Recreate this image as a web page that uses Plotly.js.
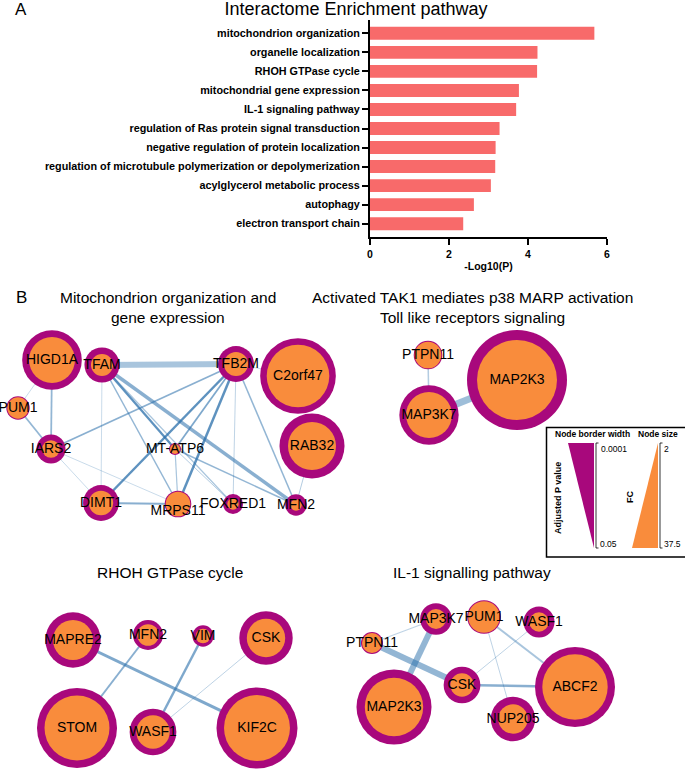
<!DOCTYPE html>
<html><head><meta charset="utf-8">
<script src="https://cdn.plot.ly/plotly-3.0.1.min.js"></script>
<style>html,body{margin:0;padding:0;background:#fff;}#chart{width:685px;height:771px;}</style>
</head><body><div id="chart"></div>
<script>
// ---------- Panel A data ----------
const pathways = [
  "mitochondrion organization",
  "organelle localization",
  "RHOH GTPase cycle",
  "mitochondrial gene expression",
  "IL-1 signaling pathway",
  "regulation of Ras protein signal transduction",
  "negative regulation of protein localization",
  "regulation of microtubule polymerization or depolymerization",
  "acylglycerol metabolic process",
  "autophagy",
  "electron transport chain"
];
const negLog10P = [5.68, 4.24, 4.23, 3.77, 3.70, 3.28, 3.18, 3.17, 3.06, 2.63, 2.36];
const xTicks = [0, 2, 4, 6];

// ---------- Panel B network data (layout coordinates, FC, adjusted P) ----------
const net1Genes = ["HIGD1A","TFAM","TFB2M","C2orf47","PUM1","IARS2","MT-ATP6","RAB32","DIMT1","MRPS11","FOXRED1","MFN2"];
const net1X     = [52, 102, 236, 298, 18, 51, 175, 312, 101, 178, 233, 296];
const net1Y     = [35, 40, 39, 51, 83, 124, 124, 121, 178, 179, 179, 180];
const net1FC    = [20, 8, 9, 28.3, 7.7, 5.8, 2, 21, 9.2, 9.3, 2.7, 2.8];
const net1Padj  = [0.0009, 0.0011, 0.0016, 0.0011, 0.05, 0.0019, 0.05, 0.00028, 0.0019, 0.05, 0.0051, 0.0032];
const net1From  = ["HIGD1A","HIGD1A","PUM1","TFAM","TFAM","TFAM","TFAM","TFAM","TFAM","IARS2","IARS2","IARS2","TFB2M","TFB2M","TFB2M","TFB2M","TFB2M","TFB2M","DIMT1","MT-ATP6","MT-ATP6","MT-ATP6","RAB32"];
const net1To    = ["PUM1","IARS2","IARS2","TFB2M","DIMT1","MT-ATP6","MRPS11","MFN2","FOXRED1","TFB2M","DIMT1","MRPS11","DIMT1","MT-ATP6","MRPS11","FOXRED1","MFN2","C2orf47","MRPS11","MRPS11","MFN2","FOXRED1","MFN2"];
const net1Score = [0.125, 0.22, 0.22, 0.75, 0.125, 0.28, 0.19, 0.44, 0.15, 0.22, 0.125, 0.125, 0.31, 0.22, 0.31, 0.125, 0.19, 0.125, 0.25, 0.15, 0.19, 0.125, 0.125];
const net1Evid  = [0.25, 0.5, 0.5, 0.4, 0.25, 0.75, 0.5, 0.55, 0.4, 0.55, 0.25, 0.25, 0.75, 0.6, 0.75, 0.3, 0.5, 0.25, 0.55, 0.4, 0.5, 0.35, 0.35];

const net2Genes = ["PTPN11","MAP2K3","MAP3K7"];
const net2X     = [83, 172, 84];
const net2Y     = [30, 55, 90];
const net2FC    = [10.3, 37, 20];
const net2Padj  = [0.05, 0.0001, 0.001];
const net2From  = ["PTPN11","MAP3K7"];
const net2To    = ["MAP3K7","MAP2K3"];
const net2Score = [0.19, 0.88];
const net2Evid  = [0.35, 0.45];

const net3Genes = ["MAPRE2","MFN2","VIM","CSK","STOM","WASF1","KIF2C"];
const net3X     = [73, 148, 203, 266, 77, 153, 257];
const net3Y     = [50, 45, 46, 48, 138, 142, 138];
const net3FC    = [17, 7.8, 4.3, 16.2, 29.5, 13.7, 30];
const net3Padj  = [0.0005, 0.0055, 0.01, 0.00056, 0.00056, 0.001, 0.00056];
const net3From  = ["MAPRE2","MFN2","VIM","CSK"];
const net3To    = ["KIF2C","STOM","WASF1","WASF1"];
const net3Score = [0.38, 0.25, 0.31, 0.125];
const net3Evid  = [0.6, 0.55, 0.6, 0.3];

const net4Genes = ["MAP3K7","PUM1","WASF1","PTPN11","CSK","MAP2K3","ABCF2","NUP205"];
const net4X     = [91, 139, 194, 27, 117, 49, 230, 168];
const net4Y     = [29, 27, 32, 53, 95, 117, 97, 129];
const net4FC    = [7, 12.8, 6.7, 7, 8.7, 26.2, 29.7, 11.7];
const net4Padj  = [0.0018, 0.05, 0.0018, 0.05, 0.001, 0.00032, 0.00065, 0.00056];
const net4From  = ["PTPN11","PTPN11","MAP3K7","CSK","CSK","PUM1","PUM1"];
const net4To    = ["MAP3K7","CSK","MAP2K3","WASF1","ABCF2","ABCF2","NUP205"];
const net4Score = [0.15, 0.75, 0.75, 0.125, 0.31, 0.25, 0.125];
const net4Evid  = [0.3, 0.5, 0.5, 0.3, 0.55, 0.4, 0.3];

// ---------- styling / helpers ----------
const W = 685, H = 771;
const px = x => x / W;
const py = y => 1 - y / H;
const FONT = "Liberation Sans, Arial, Helvetica, sans-serif";
const PURPLE = "#A8087C";
const ORANGE = "#F98C3C";
const BAR = "#F86A6A";
const EDGE_RGB = "40,110,170";

// FC -> node (inner) diameter ; adjusted P -> border width
const nodeDiam = fc => 10 + 2 * (fc - 2);
const borderW = p => Math.max(1, Math.min(10, 1 + 9 * ((-Math.log10(p)) - 1.301) / 2.699));

const traces = [];
traces.push({
  type: "bar", orientation: "h", x: negLog10P, y: pathways,
  marker: {color: BAR, line: {width: 0}}, xaxis: "x", yaxis: "y",
  hoverinfo: "skip", showlegend: false
});

function addNetwork(ax, genes, X, Y, FC, P, from, to, score, evid) {
  const idx = {};
  genes.forEach((g, i) => idx[g] = i);
  from.forEach((f, k) => {
    const a = idx[f], b = idx[to[k]];
    traces.push({
      type: "scatter", mode: "lines", x: [X[a], X[b]], y: [Y[a], Y[b]],
      line: {color: `rgba(${EDGE_RGB},${evid[k]})`, width: 8 * score[k]},
      xaxis: "x" + ax, yaxis: "y" + ax, hoverinfo: "skip", showlegend: false, cliponaxis: false
    });
  });
  const d = FC.map(nodeDiam);
  const bw = P.map(borderW);
  traces.push({
    type: "scatter", mode: "markers", x: X, y: Y,
    marker: {size: d.map((v, i) => v + 2 * bw[i]), color: PURPLE, opacity: 1, line: {width: 0}},
    xaxis: "x" + ax, yaxis: "y" + ax, hoverinfo: "skip", showlegend: false, cliponaxis: false
  });
  traces.push({
    type: "scatter", mode: "markers", x: X, y: Y,
    marker: {size: d, color: ORANGE, opacity: 1, line: {width: 0}},
    xaxis: "x" + ax, yaxis: "y" + ax, hoverinfo: "skip", showlegend: false, cliponaxis: false
  });
  traces.push({
    type: "scatter", mode: "text", x: X, y: Y, text: genes,
    textposition: genes.map(g => g === "MRPS11" ? "bottom center" : "middle center"),
    textfont: {family: FONT, size: 14, color: "#000"},
    xaxis: "x" + ax, yaxis: "y" + ax, hoverinfo: "skip", showlegend: false, cliponaxis: false
  });
}
addNetwork(2, net1Genes, net1X, net1Y, net1FC, net1Padj, net1From, net1To, net1Score, net1Evid);
addNetwork(3, net2Genes, net2X, net2Y, net2FC, net2Padj, net2From, net2To, net2Score, net2Evid);
addNetwork(4, net3Genes, net3X, net3Y, net3FC, net3Padj, net3From, net3To, net3Score, net3Evid);
addNetwork(5, net4Genes, net4X, net4Y, net4FC, net4Padj, net4From, net4To, net4Score, net4Evid);

function netAxes(x0, x1, y0, y1) {
  return [
    {domain: [px(x0), px(x1)], range: [0, x1 - x0], visible: false, fixedrange: true},
    {domain: [py(y1), py(y0)], range: [y1 - y0, 0], visible: false, fixedrange: true}
  ];
}
const [x2, y2] = netAxes(0, 345, 325, 535);
const [x3, y3] = netAxes(345, 685, 325, 470);
const [x4, y4] = netAxes(0, 345, 590, 771);
const [x5, y5] = netAxes(345, 685, 590, 771);
x2.anchor = "y2"; y2.anchor = "x2";
x3.anchor = "y3"; y3.anchor = "x3";
x4.anchor = "y4"; y4.anchor = "x4";
x5.anchor = "y5"; y5.anchor = "x5";

function ann(text, x, y, size, opts) {
  return Object.assign({
    text: text, x: px(x), y: py(y), xref: "paper", yref: "paper",
    showarrow: false, xanchor: "center", yanchor: "middle",
    font: {family: FONT, size: size, color: "#000"}
  }, opts || {});
}
const annotations = [
  ann("A", 21, 10, 17),
  ann("B", 21, 298, 17),
  ann("Mitochondrion organization and", 168, 298, 15.5),
  ann("gene expression", 168, 317, 15.5),
  ann("Activated TAK1 mediates p38 MARP activation", 472, 298, 15.5),
  ann("Toll like receptors signaling", 472, 317, 15.5),
  ann("RHOH GTPase cycle", 170, 572, 15.5),
  ann("IL-1 signalling pathway", 472, 572, 15.5),
  ann("Node border width", 592, 434, 8.5, {font: {family: FONT, size: 8.5, color: "#000", weight: "bold"}}),
  ann("Node size", 658, 434, 8.5, {font: {family: FONT, size: 8.5, color: "#000", weight: "bold"}}),
  ann("Adjusted P value", 558, 498, 9, {textangle: -90, font: {family: FONT, size: 9, color: "#000", weight: "bold"}}),
  ann("FC", 630, 497, 9, {textangle: -90, font: {family: FONT, size: 9, color: "#000", weight: "bold"}}),
  ann("0.0001", 599, 449, 8.5, {xanchor: "left"}),
  ann("0.05", 598, 544, 8.5, {xanchor: "left"}),
  ann("2", 662, 449, 8.5, {xanchor: "left"}),
  ann("37.5", 662, 544, 8.5, {xanchor: "left"})
];

function path(pts, close) {
  return pts.map((p, i) => (i ? "L" : "M") + px(p[0]) + "," + py(p[1])).join(" ") + (close ? " Z" : "");
}
const shapes = [
  {type: "rect", xref: "paper", yref: "paper", x0: px(546.5), x1: px(700), y0: py(557), y1: py(427.5),
   line: {color: "#000", width: 1.5}, fillcolor: "rgba(0,0,0,0)"},
  {type: "path", xref: "paper", yref: "paper", path: path([[568, 443], [594, 443], [594, 548]], true),
   fillcolor: PURPLE, line: {width: 0}},
  {type: "path", xref: "paper", yref: "paper", path: path([[658, 443], [658, 548], [632, 548]], true),
   fillcolor: ORANGE, line: {width: 0}},
  {type: "path", xref: "paper", yref: "paper", path: path([[598.5, 443], [596, 443], [596, 548], [598.5, 548]], false),
   line: {color: "#000", width: 0.8}},
  {type: "path", xref: "paper", yref: "paper", path: path([[662.5, 443], [660, 443], [660, 548], [662.5, 548]], false),
   line: {color: "#000", width: 0.8}}
];

const layout = {
  width: W, height: H, margin: {l: 0, r: 0, t: 0, b: 0},
  paper_bgcolor: "#fff", plot_bgcolor: "rgba(0,0,0,0)", showlegend: false,
  bargap: 0.32,
  font: {family: FONT, color: "#000"},
  title: {text: "Interactome Enrichment pathway", x: px(356), y: py(9), xref: "paper", yref: "paper",
          xanchor: "center", yanchor: "middle", font: {family: FONT, size: 18, color: "#000"}},
  xaxis: {domain: [px(370), px(607)], range: [0, 6], tickvals: xTicks, ticktext: xTicks.map(String),
          showline: true, linecolor: "#000", linewidth: 2, ticks: "outside", ticklen: 6, tickwidth: 2,
          tickcolor: "#000", showgrid: false, zeroline: false, anchor: "y", fixedrange: true,
          tickfont: {family: FONT, size: 10.5, color: "#000", weight: "bold"},
          title: {text: "-Log10(P)", standoff: 4, font: {family: FONT, size: 10.5, color: "#000", weight: "bold"}}},
  yaxis: {domain: [py(237), py(20)], type: "category", range: [10.7, -0.7],
          showline: true, linecolor: "#000", linewidth: 2, ticks: "outside", ticklen: 6, tickwidth: 2,
          tickcolor: "#000", showgrid: false, zeroline: false, anchor: "x", fixedrange: true,
          tickfont: {family: FONT, size: 10.8, color: "#000", weight: "bold"}},
  xaxis2: x2, yaxis2: y2, xaxis3: x3, yaxis3: y3, xaxis4: x4, yaxis4: y4, xaxis5: x5, yaxis5: y5,
  annotations: annotations,
  shapes: shapes
};

Plotly.newPlot("chart", traces, layout, {staticPlot: true, displayModeBar: false});
</script>
</body></html>
